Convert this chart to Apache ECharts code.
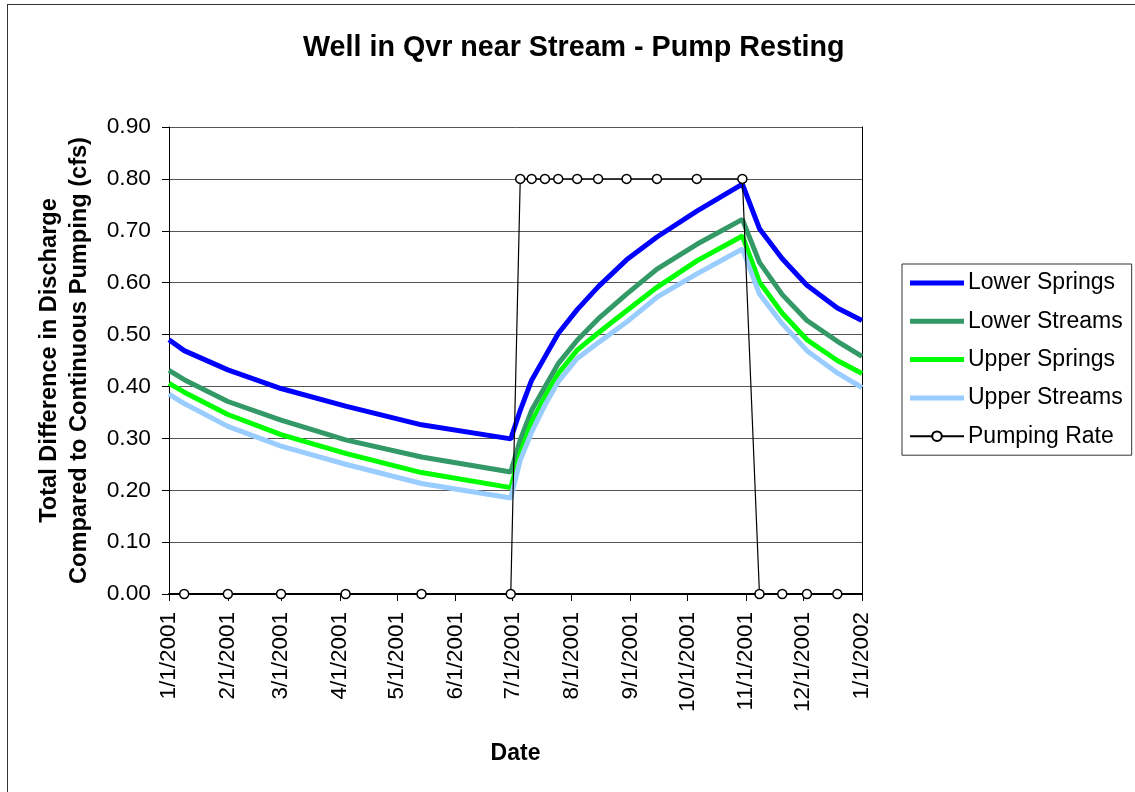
<!DOCTYPE html>
<html>
<head>
<meta charset="utf-8">
<script src="https://cdn.jsdelivr.net/npm/echarts@6/dist/echarts.min.js"></script>
<style>
  html, body { margin: 0; padding: 0; background: #fff; }
  #main { position: absolute; left: 0; top: 0; width: 1135px; height: 792px; }
  #frame { position: absolute; left: 7px; top: 4px; width: 1200px; height: 900px;
           border-left: 1px solid #333; border-top: 1px solid #333; pointer-events: none; }
</style>
</head>
<body>
<div id="main"></div>
<div id="frame"></div>
<script>
// simulation output times
var simDates = ['2001-01-01', '2001-01-09', '2001-02-01', '2001-03-01', '2001-04-04', '2001-05-14',
  '2001-06-30', '2001-07-05', '2001-07-11', '2001-07-18', '2001-07-25', '2001-08-04', '2001-08-15',
  '2001-08-30', '2001-09-15', '2001-10-06', '2001-10-30', '2001-11-08', '2001-11-20', '2001-12-03',
  '2001-12-19', '2002-01-01'];

var lowerSprings = [0.490, 0.469, 0.432, 0.396, 0.362, 0.326, 0.299, 0.354, 0.412, 0.457, 0.502,
  0.548, 0.592, 0.644, 0.688, 0.738, 0.790, 0.704, 0.646, 0.595, 0.551, 0.527];
var lowerStreams = [0.431, 0.413, 0.371, 0.335, 0.297, 0.264, 0.235, 0.297, 0.354, 0.399, 0.444,
  0.489, 0.530, 0.578, 0.626, 0.674, 0.722, 0.639, 0.577, 0.527, 0.487, 0.458];
var upperSprings = [0.406, 0.389, 0.346, 0.307, 0.271, 0.234, 0.205, 0.271, 0.332, 0.380, 0.425,
  0.470, 0.503, 0.546, 0.591, 0.642, 0.690, 0.601, 0.541, 0.490, 0.450, 0.425];
var upperStreams = [0.385, 0.367, 0.323, 0.285, 0.250, 0.213, 0.185, 0.258, 0.312, 0.364, 0.409,
  0.454, 0.484, 0.524, 0.572, 0.617, 0.665, 0.578, 0.521, 0.469, 0.426, 0.398];

// pumping schedule
var pumpDates = ['2001-01-09', '2001-02-01', '2001-03-01', '2001-04-04', '2001-05-14', '2001-06-30',
  '2001-07-05', '2001-07-11', '2001-07-18', '2001-07-25', '2001-08-04', '2001-08-15', '2001-08-30',
  '2001-09-15', '2001-10-06', '2001-10-30', '2001-11-08', '2001-11-20', '2001-12-03', '2001-12-19'];
var pumpRate = [0, 0, 0, 0, 0, 0, 0.8, 0.8, 0.8, 0.8, 0.8, 0.8, 0.8, 0.8, 0.8, 0.8, 0, 0, 0, 0];

var yTicks = { min: 0, max: 0.9, step: 0.1 };

function pairs(dates, vals) {
  return dates.map(function (d, i) { return [d, vals[i]]; });
}

function curve(name, color, vals) {
  return {
    name: name,
    type: 'line',
    data: pairs(simDates, vals),
    symbol: 'none',
    lineStyle: { color: color, width: 5 },
    itemStyle: { color: color }
  };
}

// plain bar icon for the legend (no marker on these lines)
var barIcon = 'path://M0,0H54V5H0Z';

var font = '"Liberation Sans", Arial, sans-serif';
var myChart = echarts.init(document.getElementById('main'));

var option = {
  animation: false,
  backgroundColor: '#fff',
  textStyle: { fontFamily: font, color: '#000' },
  title: {
    text: 'Well in Qvr near Stream - Pump Resting',
    left: 298,
    top: 29,
    textStyle: { fontFamily: font, fontSize: 28.7, fontWeight: 'bold', color: '#000' }
  },
  legend: {
    orient: 'vertical',
    left: 902,
    top: 264,
    padding: [7, 9, 7, 7],
    borderColor: '#333',
    borderWidth: 1,
    itemWidth: 54,
    itemHeight: 12,
    itemGap: 14.3,
    textStyle: { fontFamily: font, fontSize: 23, color: '#000', lineHeight: 24, padding: [0, 0, 0, -1] },
    data: [
      { name: 'Lower Springs', icon: barIcon },
      { name: 'Lower Streams', icon: barIcon },
      { name: 'Upper Springs', icon: barIcon },
      { name: 'Upper Streams', icon: barIcon },
      'Pumping Rate'
    ]
  },
  grid: { left: 169, top: 127, right: 273, bottom: 198 },
  xAxis: {
    type: 'time',
    min: '2001-01-01',
    max: '2002-01-01',
    splitNumber: 12,
    name: 'Date',
    nameLocation: 'middle',
    nameGap: 148,
    nameTextStyle: { fontFamily: font, fontSize: 23, fontWeight: 'bold', color: '#000' },
    axisLine: { lineStyle: { color: '#000', width: 2 } },
    axisTick: { show: true, length: 7, lineStyle: { color: '#000' } },
    splitLine: { show: false },
    axisLabel: {
      rotate: 90,
      margin: 18,
      fontFamily: font,
      fontSize: 22.5,
      color: '#000',
      hideOverlap: false,
      showMinLabel: true,
      showMaxLabel: true,
      formatter: function (v) {
        var d = new Date(v);
        return (d.getMonth() + 1) + '/' + d.getDate() + '/' + d.getFullYear();
      }
    }
  },
  yAxis: [{
    type: 'value',
    min: yTicks.min,
    max: yTicks.max,
    interval: yTicks.step,
    name: 'Total Difference in Discharge\nCompared to Continuous Pumping (cfs)',
    nameLocation: 'middle',
    nameGap: 75,
    nameTextStyle: { fontFamily: font, fontSize: 23.6, fontWeight: 'bold', color: '#000', lineHeight: 30 },
    axisLine: { show: true, lineStyle: { color: '#000' } },
    axisTick: { show: true, length: 7, lineStyle: { color: '#000' } },
    splitLine: { lineStyle: { color: '#555' } },
    axisLabel: {
      margin: 18,
      fontFamily: font,
      fontSize: 22.8,
      color: '#000',
      formatter: function (v) { return v.toFixed(2); }
    }
  }, {
    type: 'value',
    position: 'right',
    min: yTicks.min,
    max: yTicks.max,
    interval: yTicks.step,
    axisLine: { show: true, lineStyle: { color: '#000' } },
    axisTick: { show: false },
    axisLabel: { show: false },
    splitLine: { show: false }
  }],
  series: [
    curve('Lower Springs', '#0000FF', lowerSprings),
    curve('Lower Streams', '#339966', lowerStreams),
    curve('Upper Springs', '#00FF00', upperSprings),
    curve('Upper Streams', '#99CCFF', upperStreams),
    {
      name: 'Pumping Rate',
      type: 'line',
      data: pairs(pumpDates, pumpRate),
      symbol: 'circle',
      symbolSize: 9,
      showAllSymbol: true,
      lineStyle: { color: '#000', width: 1.2 },
      itemStyle: { color: '#fff', borderColor: '#000', borderWidth: 1.5 },
      z: 5
    }
  ]
};

myChart.setOption(option);
</script>
</body>
</html>
